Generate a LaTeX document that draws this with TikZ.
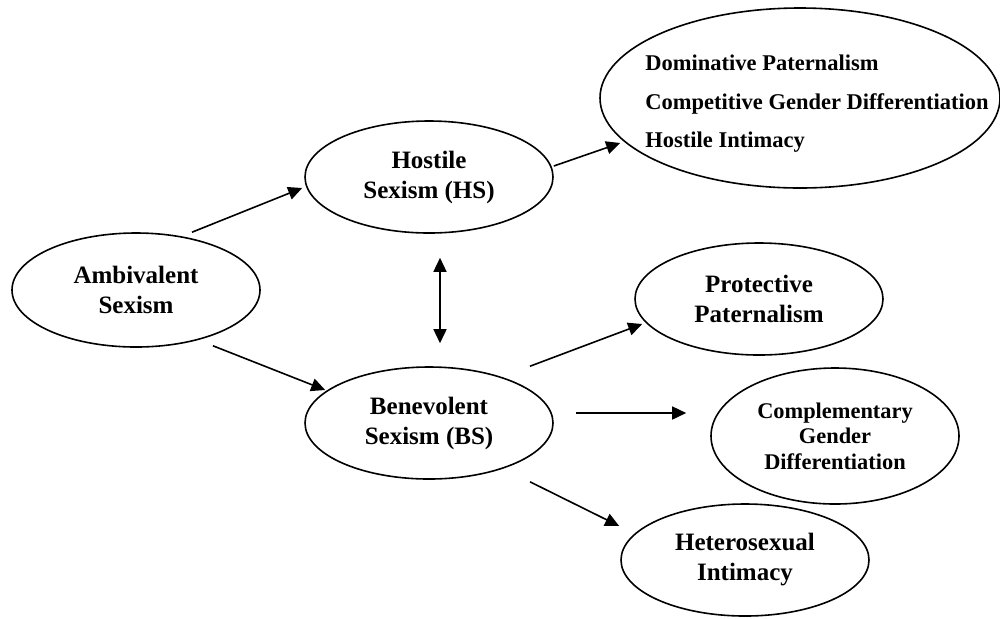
\documentclass[tikz,border=0pt]{standalone}
\usepackage{fontspec}
\setmainfont{Liberation Serif}
\usetikzlibrary{shapes.geometric,arrows.meta}

\begin{document}
\begin{tikzpicture}[x=0.5pt, y=-0.5pt,
	blob/.style={ellipse, draw, line width=0.8pt, minimum width=124pt, minimum height=56pt,
		inner sep=0pt, align=center, font=\bfseries\fontsize{12.5}{15}\selectfont},
	arr/.style={-{Triangle[length=7pt,width=6.5pt]}, line width=0.8pt},
	dbl/.style={{Triangle[length=7pt,width=6.5pt]}-{Triangle[length=7pt,width=6.5pt]}, line width=0.8pt}]
	\useasboundingbox (0,0) rectangle (1000,618);
	%ellipses
	\node[blob, minimum height=57pt] (amb) at (136,290) {Ambivalent\\Sexism};
	\node[blob] (hs) at (429,177) {Hostile\\Sexism (HS)};
	\node[blob] (bs) at (429,423) {Benevolent\\Sexism (BS)};
	\node[blob] (pp) at (759,299) {Protective\\Paternalism};
	\node[blob, minimum height=68pt, font=\bfseries\fontsize{11.2}{12.75}\selectfont] (cgd) at (835,436)
	{Complementary\\Gender\\Differentiation};
	\node[blob] (hi) at (745,560) {Heterosexual\\Intimacy};
	%hostile forms
	\node[ellipse, draw, line width=0.8pt, minimum width=200pt, minimum height=90pt, inner sep=0pt]
	(hsforms) at (800,98) {};
	\node[anchor=west, align=left, inner sep=0pt, font=\bfseries\fontsize{11.25}{19.25}\selectfont]
	(hsformstext) at (645,104)
	{Dominative Paternalism\\Competitive Gender Differentiation\\Hostile Intimacy};
	%arrows
	\draw[arr] ([shift={(56,0)}]amb.north) -- ([shift={(-2,11)}]hs.west);
	\draw[arr] ([shift={(77,-2)}]amb.south) -- ([shift={(21,-33)}]bs.west);
	\draw[arr] ([shift={(0,-11)}]hs.east) -- ([shift={(21,45)}]hsforms.west);
	\draw[dbl] ([shift={(11,24)}]hs.south) -- ([shift={(11,-23)}]bs.north);
	\draw[arr] ([shift={(101,0)}]bs.north) -- ([shift={(8,25)}]pp.west);
	\draw[arr] ([shift={(22,-10)}]bs.east) -- ([shift={(-24,-23)}]cgd.west);
	\draw[arr] ([shift={(101,2)}]bs.south) -- ([shift={(-1,-34)}]hi.west);
\end{tikzpicture}
\end{document}
